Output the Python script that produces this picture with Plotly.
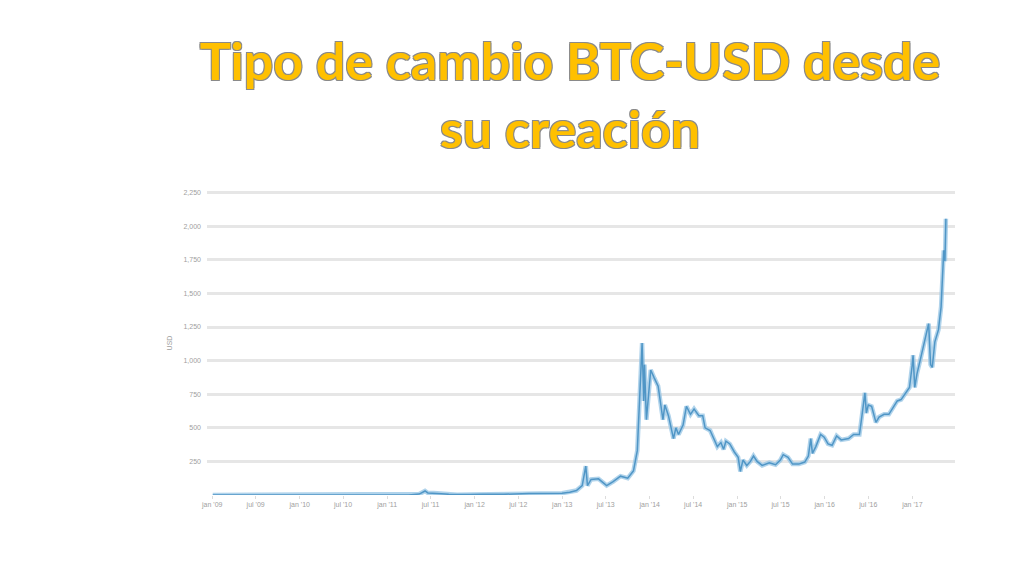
import plotly.graph_objects as go

dates = [
    "2009-01-03", "2009-07-01", "2010-01-01", "2010-07-18", "2010-11-06",
    "2011-01-01", "2011-02-10", "2011-04-01", "2011-05-15", "2011-06-08",
    "2011-06-20", "2011-07-15", "2011-08-15", "2011-09-15", "2011-10-20",
    "2011-12-15", "2012-02-01", "2012-05-01", "2012-08-15", "2012-10-01",
    "2012-12-31", "2013-02-01", "2013-03-01", "2013-03-25", "2013-04-09",
    "2013-04-16", "2013-05-01", "2013-06-01", "2013-07-05", "2013-08-01",
    "2013-09-01", "2013-10-01", "2013-10-25", "2013-11-10", "2013-11-18",
    "2013-11-30", "2013-12-07", "2013-12-10", "2013-12-18", "2013-12-26",
    "2014-01-05", "2014-01-20", "2014-02-05", "2014-02-25", "2014-03-05",
    "2014-03-20", "2014-04-10", "2014-04-20", "2014-05-01", "2014-05-20",
    "2014-06-03", "2014-06-20", "2014-07-05", "2014-07-25", "2014-08-10",
    "2014-08-20", "2014-09-10", "2014-09-25", "2014-10-10", "2014-10-25",
    "2014-11-05", "2014-11-15", "2014-12-01", "2014-12-20", "2015-01-05",
    "2015-01-14", "2015-01-25", "2015-02-10", "2015-02-25", "2015-03-10",
    "2015-03-25", "2015-04-15", "2015-05-15", "2015-06-10", "2015-06-30",
    "2015-07-12", "2015-08-01", "2015-08-20", "2015-09-15", "2015-10-10",
    "2015-10-25", "2015-11-04", "2015-11-11", "2015-11-25", "2015-12-15",
    "2015-12-30", "2016-01-15", "2016-02-01", "2016-02-20", "2016-03-10",
    "2016-04-10", "2016-05-01", "2016-05-25", "2016-06-01", "2016-06-17",
    "2016-06-23", "2016-07-01", "2016-07-15", "2016-08-02", "2016-08-15",
    "2016-09-05", "2016-09-25", "2016-10-10", "2016-10-30", "2016-11-15",
    "2016-12-01", "2016-12-20", "2016-12-31", "2017-01-04", "2017-01-11",
    "2017-01-20", "2017-02-05", "2017-02-25", "2017-03-10", "2017-03-18",
    "2017-03-25", "2017-04-05", "2017-04-20", "2017-05-01", "2017-05-08",
    "2017-05-12", "2017-05-17", "2017-05-21",
]
prices = [
    0, 0, 0, 0.05, 0.39,
    0.3, 1.0, 0.8, 7, 30,
    15, 14, 10, 5, 2.5,
    3.5, 6, 5, 12, 12,
    13.5, 20, 33, 70, 215,
    70, 116, 120, 70, 100,
    140, 125, 180, 330, 700,
    1130, 700, 970, 560, 750,
    930, 870, 810, 560, 670,
    590, 420, 500, 450, 520,
    660, 600, 640, 590, 590,
    500, 480, 420, 360, 390,
    340, 400, 380, 320, 280,
    175, 260, 220, 250, 290,
    250, 220, 240, 225, 260,
    300, 280, 230, 230, 245,
    290, 420, 310, 360, 450,
    430, 380, 370, 440, 410,
    420, 450, 450, 540, 760,
    610, 670, 660, 540, 580,
    600, 600, 640, 700, 710,
    750, 800, 960, 1040, 800,
    900, 1020, 1180, 1275, 970,
    950, 1140, 1230, 1400, 1700,
    1820, 1740, 2055,
]

tick_dates = [
    "2009-01-01", "2009-07-01", "2010-01-01", "2010-07-01", "2011-01-01",
    "2011-07-01", "2012-01-01", "2012-07-01", "2013-01-01", "2013-07-01",
    "2014-01-01", "2014-07-01", "2015-01-01", "2015-07-01", "2016-01-01",
    "2016-07-01", "2017-01-01",
]
tick_labels = [
    "jan '09", "jul '09", "jan '10", "jul '10", "jan '11",
    "jul '11", "jan '12", "jul '12", "jan '13", "jul '13",
    "jan '14", "jul '14", "jan '15", "jul '15", "jan '16",
    "jul '16", "jan '17",
]
y_ticks = [250, 500, 750, 1000, 1250, 1500, 1750, 2000, 2250]

fig = go.Figure()
fig.add_trace(go.Scatter(
    x=dates, y=prices, mode="lines",
    line=dict(color="rgba(150,196,228,0.75)", width=4.5),
    hoverinfo="skip", showlegend=False,
))
fig.add_trace(go.Scatter(
    x=dates, y=prices, mode="lines",
    line=dict(color="#5096c6", width=1.5),
    showlegend=False,
))

fig.update_layout(
    width=1024, height=576,
    paper_bgcolor="white", plot_bgcolor="white",
    margin=dict(l=199, r=77, t=183, b=89),
    title=dict(
        text="Tipo de cambio BTC-USD desde<br>su creación",
        x=562 / 1024, xanchor="center", xref="container",
        y=1 - 72 / 576, yanchor="middle", yref="container",
        font=dict(
            family="Lato", size=52, color="#FFC000", weight="bold",
            shadow="-1px -1px 0 #8a8a8a, 1px -1px 0 #8a8a8a, -1px 1px 0 #8a8a8a, 1px 1px 0 #8a8a8a",
        ),
    ),
    xaxis=dict(
        type="date",
        range=["2008-12-10", "2017-06-28"],
        tickvals=tick_dates, ticktext=tick_labels,
        tickfont=dict(family="Liberation Sans", size=7, color="#a0a0a0"),
        showgrid=False, zeroline=False, showline=False,
        ticks="outside", ticklen=3, tickcolor="#dcdcdc",
    ),
    yaxis=dict(
        range=[0, 2262],
        tickvals=y_ticks, tickformat=",",
        tickfont=dict(family="Liberation Sans", size=7, color="#a0a0a0"),
        ticklabelstandoff=5,
        showgrid=True, gridcolor="#e6e6e6", gridwidth=2.5,
        zeroline=False, showline=False,
        title=dict(text="USD", font=dict(family="Liberation Sans", size=7, color="#a0a0a0"), standoff=10),
    ),
)

fig.write_html("out.html")
